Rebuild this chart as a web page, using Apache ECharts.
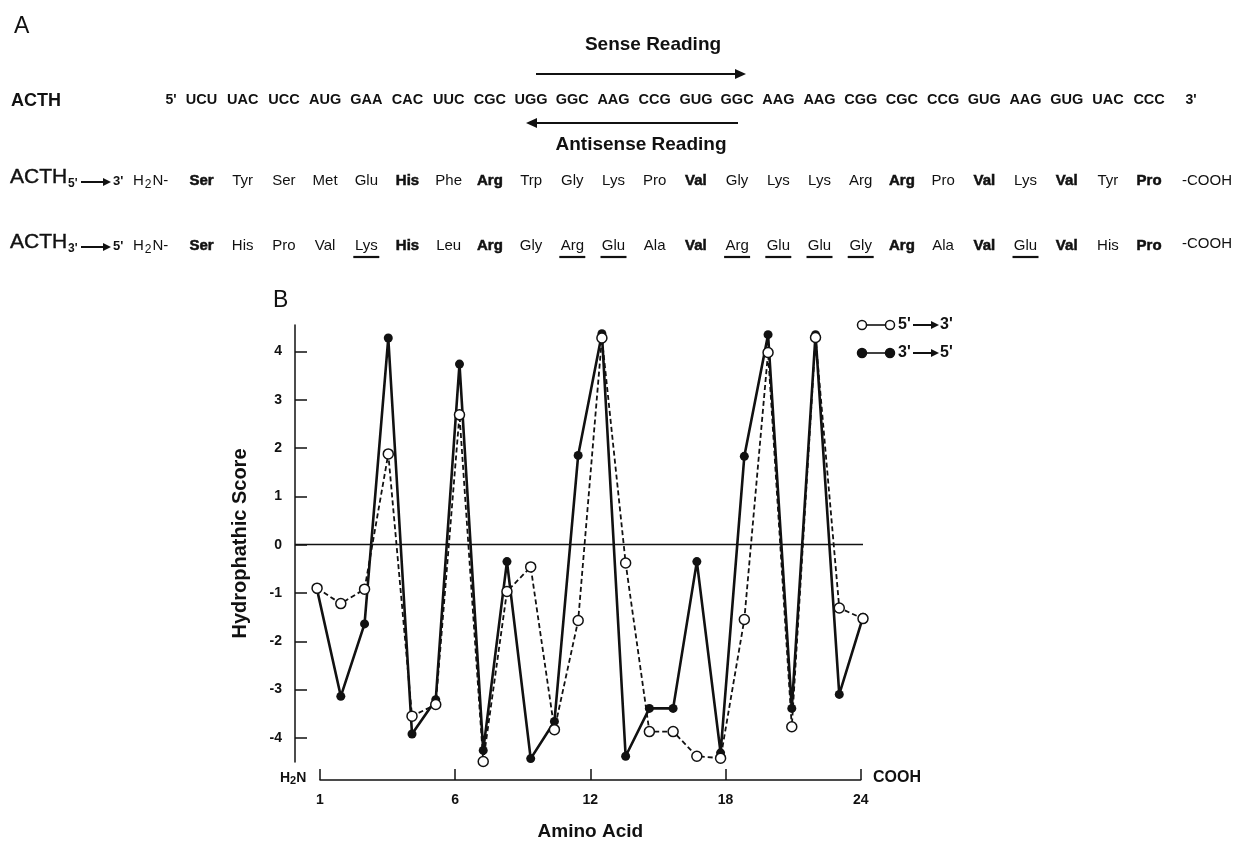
<!DOCTYPE html>
<html><head><meta charset="utf-8">
<script src="https://cdn.jsdelivr.net/npm/echarts@6/dist/echarts.min.js"></script>
<style>html,body{margin:0;padding:0;background:#fff}#c{width:1235px;height:845px}</style>
</head><body><div id="c"></div>
<script>
// ---------- data ----------
const positions = [1,2,3,4,5,6,7,8,9,10,11,12,13,14,15,16,17,18,19,20,21,22,23,24];
// open circles, dashed: 5'->3' reading
const sense53 = [-0.90,-1.22,-0.92,1.88,-3.55,-3.31,2.69,-4.49,-0.97,-0.46,-3.83,-1.57,4.28,-0.38,-3.87,-3.87,-4.38,-4.42,-1.55,3.98,-3.77,4.29,-1.31,-1.53];
// filled circles, solid: 3'->5' reading
const anti35 = [-0.93,-3.14,-1.64,4.28,-3.92,-3.21,3.74,-4.26,-0.35,-4.43,-3.66,1.85,4.37,-4.38,-3.39,-3.39,-0.35,-4.31,1.83,4.35,-3.39,4.35,-3.10,-1.50];
const xTickValues = [0,6,12,18,24];
const xTickLabels = ['1','6','12','18','24'];
const yTicks = [-4,-3,-2,-1,0,1,2,3,4];
const codons = ['UCU','UAC','UCC','AUG','GAA','CAC','UUC','CGC','UGG','GGC','AAG','CCG','GUG','GGC','AAG','AAG','CGG','CGC','CCG','GUG','AAG','GUG','UAC','CCC'];
const aa53 = ['Ser','Tyr','Ser','Met','Glu','His','Phe','Arg','Trp','Gly','Lys','Pro','Val','Gly','Lys','Lys','Arg','Arg','Pro','Val','Lys','Val','Tyr','Pro'];
const aa35 = ['Ser','His','Pro','Val','Lys','His','Leu','Arg','Gly','Arg','Glu','Ala','Val','Arg','Glu','Glu','Gly','Arg','Ala','Val','Glu','Val','His','Pro'];
const heavyIdx = [1,6,8,13,18,20,22,24];
const underlineIdx = [5,10,11,14,15,16,17,21];
const legendNames = ["5'→3'", "3'→5'"];

// ---------- layout helpers ----------
const FF = "'Liberation Sans', Arial, Helvetica, sans-serif";
const K = '#111';
const colX = i => 201.5 + 41.2 * i;
const g = [];
function txt(x, y, text, font, align, extra) {
  g.push(Object.assign({type:'text', x:x, y:y, silent:true,
    style:Object.assign({text:text, font:font, fill:K, textAlign:align||'center', textVerticalAlign:'middle'}, extra||{})}));
}
function line(x1,y1,x2,y2,w){ g.push({type:'line', silent:true, shape:{x1,y1,x2,y2}, style:{stroke:K, lineWidth:w||2}}); }
function arrowR(x1,x2,y,w,hl,hw){ line(x1,y,x2-hl+1,y,w); g.push({type:'polygon', silent:true, shape:{points:[[x2-hl,y-hw],[x2,y],[x2-hl,y+hw]]}, style:{fill:K}}); }
function arrowL(x1,x2,y,w,hl,hw){ line(x1,y,x2+hl-1,y,w); g.push({type:'polygon', silent:true, shape:{points:[[x2+hl,y-hw],[x2,y],[x2+hl,y+hw]]}, style:{fill:K}}); }

// Panel A
txt(14, 27, 'A', 'normal 23px ' + FF, 'left');
txt(653, 45, 'Sense Reading', 'bold 19px ' + FF);
arrowR(536, 746, 74, 2.2, 11, 5);
txt(641, 145, 'Antisense Reading', 'bold 19px ' + FF);
arrowL(738, 526, 123, 2.2, 11, 5);
txt(11, 101, 'ACTH', 'bold 18px ' + FF, 'left');
txt(171, 100, "5'", 'bold 14px ' + FF);
txt(1191, 100, "3'", 'bold 14px ' + FF);
codons.forEach((c,i)=>txt(colX(i), 100, c, 'bold 14.5px ' + FF));

function rowLabel(y, a, b) {
  txt(10, y - 4, 'ACTH', 'normal 21px ' + FF, 'left', {stroke:K, lineWidth:0.4});
  txt(68, y + 3, a + "'", 'bold 12px ' + FF, 'left');
  arrowR(81, 111, y + 1, 2, 8, 4);
  txt(113, y, b + "'", 'bold 13px ' + FF, 'left');
  g.push({type:'text', x:133, y:y, silent:true, style:{text:'{a|H}{s|2}{a|N-}', textAlign:'left', textVerticalAlign:'middle',
    rich:{a:{font:'normal 15px ' + FF, fill:K}, s:{font:'normal 12px ' + FF, fill:K, padding:[8,1,0,1]}}}});
}
rowLabel(181, '5', '3');
rowLabel(246, '3', '5');
function aaRow(list, y, ul) {
  list.forEach((a,i)=>{
    const heavy = heavyIdx.indexOf(i+1) >= 0;
    txt(colX(i), y, a, (heavy ? 'bold ' : 'normal ') + '15px ' + FF, 'center', heavy ? {stroke:K, lineWidth:0.5} : {});
    if (ul && underlineIdx.indexOf(i+1) >= 0) line(colX(i)-13, 257, colX(i)+13, 257, 2.2);
  });
}
aaRow(aa53, 181, false);
aaRow(aa35, 246, true);
txt(1182, 181, '-COOH', 'normal 15px ' + FF, 'left');
txt(1182, 244, '-COOH', 'normal 15px ' + FF, 'left');

// Panel B extras
txt(273, 301, 'B', 'normal 23px ' + FF, 'left');
g.push({type:'text', x:280, y:778, silent:true, style:{text:'{a|H}{s|2}{a|N}', textAlign:'left', textVerticalAlign:'middle',
  rich:{a:{font:'bold 14px ' + FF, fill:K}, s:{font:'bold 11px ' + FF, fill:K, padding:[5,0,0,0]}}}});
txt(873, 778, 'COOH', 'bold 16px ' + FF, 'left');
// legend
function legendRow(y, filled, a, b) {
  line(862, y, 890, y, 1.6);
  [862, 890].forEach(cx=>g.push({type:'circle', silent:true, shape:{cx:cx, cy:y, r:4.5}, style:{fill: filled ? K : '#fff', stroke:K, lineWidth:1.5}}));
  txt(898, y, a, 'bold 16px ' + FF, 'left');
  arrowR(913, 939, y, 2, 8, 4);
  txt(940, y, b, 'bold 16px ' + FF, 'left');
}
legendRow(325, false, "5'", "3'");
legendRow(353, true, "3'", "5'");

// ---------- chart ----------
const chart = echarts.init(document.getElementById('c'), null, {renderer:'canvas'});
chart.setOption({
  backgroundColor:'#fff',
  animation:false,
  grid:[
    {left:295, right:372, top:325, bottom:83},
    {left:320, right:374.3, top:760, bottom:65}
  ],
  xAxis:[
    {gridIndex:0, type:'value', min:0.07, max:24, show:false},
    {gridIndex:1, type:'value', min:0, max:24, interval:6,
     axisLine:{show:true, lineStyle:{color:K, width:1.5}},
     axisTick:{show:true, inside:true, length:11, lineStyle:{color:K, width:1.5}},
     axisLabel:{color:K, fontFamily:FF, fontWeight:'bold', fontSize:14, margin:13,
       formatter:v=>xTickLabels[xTickValues.indexOf(v)]},
     splitLine:{show:false},
     name:'Amino Acid', nameLocation:'middle', nameGap:42,
     nameTextStyle:{color:K, fontFamily:FF, fontWeight:'bold', fontSize:19}}
  ],
  yAxis:[
    {gridIndex:0, type:'value', min:-4.5, max:4.55,
     axisLine:{show:true, lineStyle:{color:K, width:1.5}},
     axisTick:{show:true, inside:true, length:12, customValues:yTicks, lineStyle:{color:K, width:1.5}},
     axisLabel:{customValues:yTicks, color:K, fontFamily:FF, fontWeight:'bold', fontSize:14, margin:13},
     splitLine:{show:false},
     name:'Hydrophathic Score', nameLocation:'middle', nameGap:45, nameRotate:90,
     nameTextStyle:{color:K, fontFamily:FF, fontWeight:'bold', fontSize:20}},
    {gridIndex:1, type:'value', show:false}
  ],
  series:[
    {name:legendNames[1], type:'line', xAxisIndex:0, yAxisIndex:0, z:2,
     data:positions.map((p,i)=>[p, anti35[i]]),
     symbol:'circle', symbolSize:9, showAllSymbol:true,
     itemStyle:{color:K, borderColor:K, borderWidth:0},
     lineStyle:{color:K, width:2.6},
     markLine:{silent:true, symbol:'none', label:{show:false},
       lineStyle:{color:K, width:1.3, type:'solid'}, data:[{yAxis:0}]}},
    {name:legendNames[0], type:'line', xAxisIndex:0, yAxisIndex:0, z:3,
     data:positions.map((p,i)=>[p, sense53[i]]),
     symbol:'circle', symbolSize:10, showAllSymbol:true,
     itemStyle:{color:'#fff', borderColor:K, borderWidth:1.5},
     lineStyle:{color:K, width:1.8, type:[5,3]}}
  ],
  graphic:g
});
</script></body></html>
